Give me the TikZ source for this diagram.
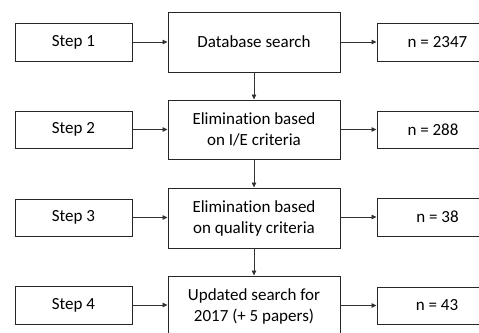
\documentclass[tikz,border=0pt]{standalone}
\usepackage{fontspec}
\setmainfont[Ligatures=NoCommon]{Carlito}
\usetikzlibrary{arrows.meta}
\begin{document}
\begin{tikzpicture}[x=1pt,y=-1pt,
  box/.style={draw=black!85,line width=1pt,fill=white,inner sep=0pt,align=center,
    font=\fontsize{17}{21}\selectfont},
  lbl/.style={inner sep=0pt,font=\fontsize{17}{21}\selectfont},
  conn/.style={draw=black!80,line width=0.8pt,-{Triangle[length=5pt,width=4.5pt]}}]
\useasboundingbox (0,0) rectangle (479,332);
\clip (0,0) rectangle (479,332);
\fill[white] (0,0) rectangle (479,332);
% step boxes
\node[box,minimum width=117pt,minimum height=38pt] (s1) at (73.5,42) {Step 1};
\node[box,minimum width=117pt,minimum height=37pt] (s2) at (73.5,129.5) {Step 2};
\node[box,minimum width=117pt,minimum height=37pt] (s3) at (73.5,217.5) {Step 3};
\node[box,minimum width=117pt,minimum height=38pt] (s4) at (73.5,305) {Step 4};
% middle boxes
\node[box,minimum width=172pt,minimum height=60pt] (m1) at (254,42) {Database search};
\node[box,minimum width=172pt,minimum height=59pt] (m2) at (254,129.5) {Elimination based\\on I/E criteria};
\node[box,minimum width=172pt,minimum height=60pt] (m3) at (254,218) {Elimination based\\on quality criteria};
\node[box,minimum width=172pt,minimum height=60pt] (m4) at (254,306) {Updated search for\\2017 (+ 5 papers)};
% right boxes
\node[box,minimum width=122pt,minimum height=38pt] (r1) at (438,42) {};
\node[box,minimum width=122pt,minimum height=37pt] (r2) at (438,129.5) {};
\node[box,minimum width=122pt,minimum height=38pt] (r3) at (438,217) {};
\node[box,minimum width=122pt,minimum height=37pt] (r4) at (438,305.5) {};
\node[lbl] (t1) at (437.5,42) {n = 2347};
\node[lbl] (t2) at (433,129.5) {n = 288};
\node[lbl] (t3) at (437.5,217) {n = 38};
\node[lbl] (t4) at (437,305.5) {n = 43};
% connectors
\foreach \i in {1,2,3,4}{
  \draw[conn] (s\i.east) -- (s\i.east -| m\i.west);
  \draw[conn] (m\i.east |- r\i.west) -- (r\i.west);
}
\draw[conn] (m1.south) -- (m2.north);
\draw[conn] (m2.south) -- (m3.north);
\draw[conn] (m3.south) -- (m4.north);
\end{tikzpicture}
\end{document}
